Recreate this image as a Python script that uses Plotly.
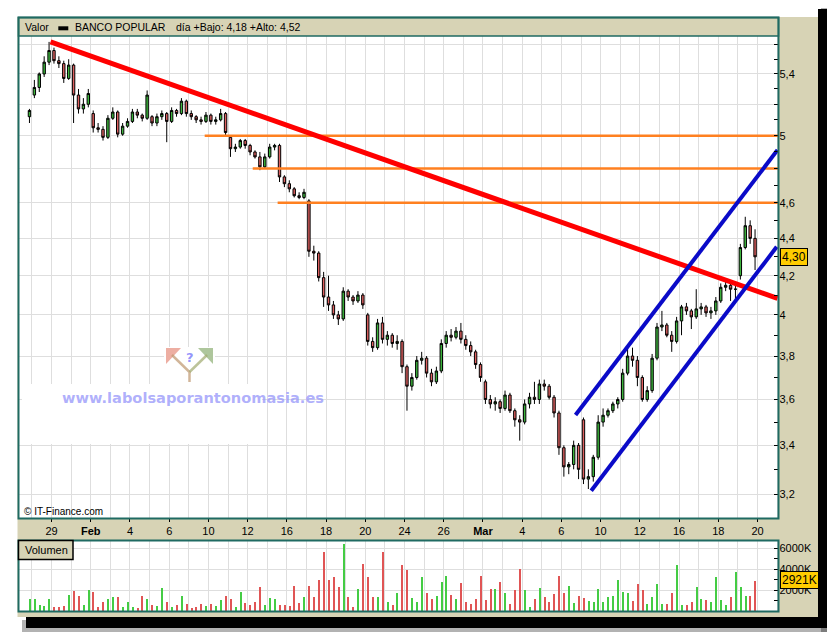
import numpy as np
import plotly.graph_objects as go

# page body adds an 8px margin; figure is sized so its content fits the 835x635 window
OFF = 8
W, H = 835 - OFF, 635 - OFF

# ---------------- data ----------------
trading_days = [
    "Jan 27", "Jan 28", "Jan 29", "Jan 30",
    "Feb 2", "Feb 3", "Feb 4", "Feb 5", "Feb 6",
    "Feb 9", "Feb 10", "Feb 11", "Feb 12", "Feb 13",
    "Feb 16", "Feb 17", "Feb 18", "Feb 19", "Feb 20",
    "Feb 23", "Feb 24", "Feb 25", "Feb 26", "Feb 27",
    "Mar 2", "Mar 3", "Mar 4", "Mar 5", "Mar 6",
    "Mar 9", "Mar 10", "Mar 11", "Mar 12", "Mar 13",
    "Mar 16", "Mar 17", "Mar 18", "Mar 19",
]
axis_days = trading_days + ["Mar 20", "Mar 23"]
slots_per_day = 4

tick_days = ["Jan 29", "Feb 2", "Feb 4", "Feb 6", "Feb 10", "Feb 12", "Feb 16", "Feb 18",
             "Feb 20", "Feb 24", "Feb 26", "Mar 2", "Mar 4", "Mar 6", "Mar 10", "Mar 12",
             "Mar 16", "Mar 18", "Mar 20"]
tick_text = ["29", "<b>Feb</b>", "4", "6", "10", "12", "16", "18", "20", "24", "26",
             "<b>Mar</b>", "4", "6", "10", "12", "16", "18", "20"]

N = None
opens = [
    N, N, N, 5.12,                 # Jan 27
    5.26, 5.31, 5.40, 5.48,        # Jan 28
    5.56, 5.49, 5.47, 5.37,        # Jan 29
    5.46, 5.26, 5.17, 5.20,        # Jan 30
    5.14, 5.05, 5.04, 4.99,        # Feb 2
    5.11, 5.15, 5.01, 5.06,        # Feb 3
    5.09, 5.15, 5.13, 5.11,        # Feb 4
    5.12, 5.08, 5.12, 5.14,        # Feb 5
    5.09, 5.16, 5.14, 5.22,        # Feb 6
    5.14, 5.12, 5.10, 5.09,        # Feb 9
    5.13, 5.09, 5.10, 5.14,        # Feb 10
    4.99, 4.92, 4.93, 4.97,        # Feb 11
    4.94, 4.90, 4.87, 4.81,        # Feb 12
    4.87, 4.93, 4.94, 4.75,        # Feb 13
    4.71, 4.68, 4.64, 4.63,        # Feb 16
    4.61, 4.33, 4.32, 4.19,        # Feb 17
    4.09, 4.05, 4.00, 3.98,        # Feb 18
    4.12, 4.09, 4.07, 4.10,        # Feb 19
    4.00, 3.87, 3.84, 3.96,        # Feb 20
    3.88, 3.90, 3.86, 3.87,        # Feb 23
    3.75, 3.66, 3.70, 3.78,        # Feb 24
    3.79, 3.72, 3.68, 3.73,        # Feb 25
    3.86, 3.90, 3.89, 3.92,        # Feb 26
    3.88, 3.85, 3.82, 3.76,        # Feb 27
    3.68, 3.60, 3.58, 3.59,        # Mar 2
    3.56, 3.62, 3.55, 3.51,        # Mar 3
    3.50, 3.58, 3.61, 3.60,        # Mar 4
    3.67, 3.66, 3.61, 3.54,        # Mar 5
    3.39, 3.31, 3.32, 3.40,        # Mar 6
    3.51, 3.26, 3.27, 3.35,        # Mar 9
    3.50, 3.53, 3.55, 3.58,        # Mar 10
    3.60, 3.72, 3.80, 3.78,        # Mar 11
    3.70, 3.60, 3.64, 3.79,        # Mar 12
    3.94, 3.95, 3.90, 3.87,        # Mar 13
    3.97, 4.04, 4.02, 3.99,        # Mar 16
    4.03, 4.04, 4.01, 4.02,        # Mar 17
    4.07, 4.14, 4.15, 4.13,        # Mar 18
    4.20, 4.35, 4.47, 4.40,        # Mar 19
]
highs = [
    N, N, N, 5.17,
    5.36, 5.41, 5.52, 5.62,
    5.58, 5.52, 5.49, 5.50,
    5.47, 5.30, 5.24, 5.30,
    5.16, 5.08, 5.06, 5.13,
    5.18, 5.16, 5.08, 5.11,
    5.17, 5.17, 5.14, 5.29,
    5.13, 5.14, 5.16, 5.15,
    5.18, 5.17, 5.24, 5.23,
    5.16, 5.13, 5.12, 5.15,
    5.14, 5.12, 5.17, 5.15,
    5.00, 4.95, 4.98, 4.98,
    4.95, 4.91, 4.90, 4.89,
    4.95, 4.95, 4.95, 4.76,
    4.73, 4.69, 4.66, 4.68,
    4.62, 4.36, 4.33, 4.22,
    4.20, 4.07, 4.02, 4.14,
    4.13, 4.10, 4.12, 4.11,
    4.01, 3.89, 3.98, 3.99,
    3.92, 3.91, 3.90, 3.88,
    3.76, 3.72, 3.80, 3.82,
    3.80, 3.74, 3.75, 3.88,
    3.92, 3.93, 3.94, 3.96,
    3.90, 3.87, 3.83, 3.77,
    3.69, 3.62, 3.61, 3.60,
    3.64, 3.63, 3.56, 3.53,
    3.60, 3.63, 3.68, 3.69,
    3.69, 3.67, 3.62, 3.55,
    3.40, 3.33, 3.42, 3.41,
    3.52, 3.30, 3.36, 3.53,
    3.56, 3.56, 3.59, 3.61,
    3.74, 3.85, 3.84, 3.80,
    3.71, 3.66, 3.81, 3.96,
    4.02, 3.96, 3.92, 3.99,
    4.05, 4.06, 4.03, 4.13,
    4.06, 4.05, 4.04, 4.09,
    4.16, 4.17, 4.16, 4.15,
    4.37, 4.52, 4.50, 4.45,
]
lows = [
    N, N, N, 5.08,
    5.24, 5.28, 5.38, 5.46,
    5.47, 5.44, 5.34, 5.36,
    5.08, 5.14, 5.14, 5.18,
    5.02, 5.02, 4.97, 4.98,
    5.10, 4.99, 5.00, 5.05,
    5.08, 5.11, 5.09, 5.10,
    5.06, 5.06, 5.10, 4.96,
    5.08, 5.12, 5.13, 5.12,
    5.10, 5.08, 5.07, 5.08,
    5.07, 5.07, 5.09, 5.00,
    4.87, 4.90, 4.92, 4.92,
    4.88, 4.86, 4.79, 4.80,
    4.86, 4.91, 4.72, 4.69,
    4.66, 4.63, 4.62, 4.62,
    4.30, 4.28, 4.17, 4.04,
    4.02, 3.98, 3.95, 3.97,
    4.07, 4.05, 4.06, 4.03,
    3.85, 3.82, 3.83, 3.86,
    3.85, 3.84, 3.83, 3.72,
    3.55, 3.64, 3.69, 3.76,
    3.70, 3.66, 3.67, 3.72,
    3.84, 3.87, 3.88, 3.86,
    3.83, 3.80, 3.74, 3.68,
    3.58, 3.56, 3.55, 3.54,
    3.55, 3.54, 3.48, 3.42,
    3.49, 3.56, 3.58, 3.58,
    3.64, 3.60, 3.52, 3.36,
    3.27, 3.28, 3.30, 3.26,
    3.24, 3.22, 3.25, 3.34,
    3.48, 3.52, 3.54, 3.56,
    3.59, 3.71, 3.75, 3.66,
    3.59, 3.59, 3.63, 3.78,
    3.92, 3.89, 3.82, 3.86,
    3.90, 4.00, 3.93, 3.98,
    4.00, 3.99, 3.98, 4.00,
    4.06, 4.12, 4.07, 4.08,
    4.18, 4.34, 4.37, 4.23,
]
closes = [
    N, N, N, 5.16,
    5.31, 5.40, 5.48, 5.56,
    5.49, 5.47, 5.37, 5.46,
    5.26, 5.17, 5.20, 5.27,
    5.05, 5.04, 4.99, 5.11,
    5.15, 5.01, 5.06, 5.09,
    5.15, 5.13, 5.11, 5.26,
    5.08, 5.12, 5.14, 5.09,
    5.16, 5.14, 5.22, 5.14,
    5.12, 5.10, 5.09, 5.13,
    5.09, 5.10, 5.14, 5.02,
    4.92, 4.93, 4.97, 4.94,
    4.90, 4.87, 4.81, 4.87,
    4.93, 4.94, 4.75, 4.71,
    4.68, 4.64, 4.63, 4.66,
    4.33, 4.32, 4.19, 4.09,
    4.05, 4.00, 3.98, 4.12,
    4.09, 4.07, 4.10, 4.05,
    3.87, 3.84, 3.96, 3.88,
    3.90, 3.86, 3.87, 3.75,
    3.66, 3.70, 3.78, 3.79,
    3.72, 3.68, 3.73, 3.86,
    3.90, 3.89, 3.92, 3.88,
    3.85, 3.82, 3.76, 3.70,
    3.60, 3.58, 3.59, 3.56,
    3.62, 3.55, 3.51, 3.50,
    3.58, 3.61, 3.60, 3.67,
    3.66, 3.61, 3.54, 3.39,
    3.31, 3.32, 3.40, 3.30,
    3.26, 3.27, 3.35, 3.50,
    3.53, 3.55, 3.58, 3.60,
    3.72, 3.80, 3.78, 3.70,
    3.60, 3.64, 3.79, 3.94,
    3.95, 3.90, 3.87, 3.97,
    4.04, 4.02, 3.99, 4.03,
    4.04, 4.01, 4.02, 4.07,
    4.14, 4.15, 4.13, 4.13,
    4.35, 4.47, 4.40, 4.30,
]
volumes_k = [
    N, N, N, 1200,
    1150, 560, 540, 1200,
    410, 420, 500, 1600,
    1900, 1450, 600, 2000,
    1850, 420, 900, 1200,
    1400, 1400, 400, 900,
    380, 300, 1500, 1200,
    570, 500, 2250, 900,
    400, 600, 1500, 700,
    280, 450, 700, 550,
    700, 500, 1100, 1500,
    1200, 420, 1850, 750,
    570, 900, 2300, 600,
    1250, 1200, 600, 580,
    550, 2450, 750, 1400,
    2450, 1400, 2950, 5650,
    2950, 3250, 2300, 6450,
    1350, 450, 2100, 4500,
    3300, 1350, 1350, 5650,
    900, 570, 1700, 4450,
    3900, 1300, 900, 3300,
    1700, 1200, 1500, 2800,
    3350, 1550, 1200, 2700,
    900, 700, 1200, 3350,
    1100, 2150, 2150, 2800,
    1700, 730, 2000, 4050,
    2000, 400, 1200, 2200,
    1360, 900, 1680, 3400,
    1700, 2450, 750, 1500,
    1250, 1000, 900, 2150,
    900, 1350, 1500, 3000,
    1850, 1700, 1000, 2600,
    2000, 700, 1350, 2600,
    730, 730, 1700, 4400,
    570, 600, 900, 2300,
    1200, 1050, 900, 3250,
    1050, 570, 1350, 3750,
    2300, 1500, 1500, 2921,
]

# drawn trend lines (day offset from Jan 29, price)
red_trend_days = [-0.05, 37.02]
red_trend_prices = [5.62, 4.083]
upper_channel_days = [26.72, 37.02]
upper_channel_prices = [3.531, 4.912]
lower_channel_days = [27.52, 36.98]
lower_channel_prices = [3.213, 4.354]
resistance_prices = [5.0, 4.8, 4.6]
resistance_start_days = [7.81, 10.26, 11.53]

price_ticks = [5.6, 5.4, 5.2, 5.0, 4.8, 4.6, 4.4, 4.2, 4.0, 3.8, 3.6, 3.4, 3.2]
price_tick_text = ["", "5,4", "", "5", "", "4,6", "4,4", "4,2", "4", "3,8", "3,6", "3,4", "3,2"]
price_minor = [5.5, 5.3, 5.1, 4.9, 4.7, 4.5, 4.3, 4.1, 3.9, 3.7, 3.5, 3.3]
vol_ticks = [2000, 4000, 6000]
vol_tick_text = ["2000K", "4000K", "6000K"]
vol_minor = [1000, 3000, 5000]

# ---------------- derived positions ----------------
origin = axis_days.index("Jan 29")
x = []
for i, _ in enumerate(trading_days):
    for q in range(slots_per_day):
        x.append(i - origin + (q + 0.5) / slots_per_day)
tick_pos = [axis_days.index(d) - origin for d in tick_days]
X_RANGE = [-1.684, 37.07]

vol_colors = []
for o, c in zip(opens, closes):
    if o is None:
        vol_colors.append("#44cc44")
    else:
        vol_colors.append("#44cc44" if c >= o else "#e05555")


def fx(px):
    return (px - OFF) / W


def fy(py):
    return 1 - (py - OFF) / H


BEIGE = "#d7d3b5"
TEAL = "#1f6a62"
GRID = "#dedede"
FONT = "Liberation Sans, Arial, sans-serif"

fig = go.Figure()

fig.add_trace(go.Candlestick(
    x=x, open=opens, high=highs, low=lows, close=closes,
    increasing=dict(fillcolor="#3cb43c", line=dict(color="black", width=1)),
    decreasing=dict(fillcolor="#de6060", line=dict(color="black", width=1)),
    whiskerwidth=0, xaxis="x", yaxis="y", showlegend=False, hoverinfo="skip",
))

for p, d0 in zip(resistance_prices, resistance_start_days):
    fig.add_trace(go.Scatter(x=[d0, X_RANGE[1] + 1], y=[p, p], mode="lines",
                             line=dict(color="#ff8020", width=2.5),
                             xaxis="x", yaxis="y", showlegend=False, hoverinfo="skip"))

fig.add_trace(go.Scatter(x=red_trend_days, y=red_trend_prices, mode="lines",
                         line=dict(color="#ff0000", width=5),
                         xaxis="x", yaxis="y", showlegend=False, hoverinfo="skip"))
for dd, pp in [(upper_channel_days, upper_channel_prices), (lower_channel_days, lower_channel_prices)]:
    fig.add_trace(go.Scatter(x=dd, y=pp, mode="lines",
                             line=dict(color="#0a0ac8", width=4),
                             xaxis="x", yaxis="y", showlegend=False, hoverinfo="skip"))

fig.add_trace(go.Bar(x=x, y=volumes_k, marker=dict(color=vol_colors, line=dict(width=0)),
                     width=0.075, xaxis="x2", yaxis="y2", showlegend=False, hoverinfo="skip"))

x_dom = [fx(18.5), fx(778.5)]
price_dom = [fy(518), fy(36)]
vol_dom = [fy(611), fy(540.7)]
p_lo = np.exp((1427.8 - 518) / 802.8)
p_hi = np.exp((1427.8 - 36) / 802.8)

axis_font = dict(family=FONT, size=11, color="black")

fig.update_layout(
    width=W, height=H, autosize=False,
    margin=dict(l=0, r=0, t=0, b=0),
    paper_bgcolor="white", plot_bgcolor="white",
    showlegend=False,
    bargap=0,
    xaxis=dict(domain=x_dom, range=X_RANGE, anchor="y",
               tickmode="array", tickvals=tick_pos, ticktext=tick_text,
               ticks="outside", ticklen=3, tickcolor="black",
               showgrid=True, gridcolor=GRID, gridwidth=1,
               minor=dict(dtick=1, tick0=0, showgrid=True, gridcolor=GRID, ticks=""),
               zeroline=False, showline=False, tickfont=axis_font,
               rangeslider=dict(visible=False), fixedrange=True),
    yaxis=dict(domain=price_dom, type="log", anchor="x", side="right",
               range=[np.log10(p_lo), np.log10(p_hi)],
               tickmode="array", tickvals=price_ticks, ticktext=price_tick_text,
               ticks="inside", ticklen=5, tickcolor="black",
               showgrid=True, gridcolor=GRID, gridwidth=1,
               minor=dict(tickmode="array", tickvals=price_minor, ticks="inside",
                          ticklen=5, tickcolor="black", showgrid=False),
               zeroline=False, showline=False, tickfont=axis_font, fixedrange=True),
    xaxis2=dict(domain=x_dom, range=X_RANGE, anchor="y2", matches="x",
                tickmode="array", tickvals=tick_pos, showticklabels=False, ticks="",
                showgrid=True, gridcolor=GRID,
                minor=dict(dtick=1, tick0=0, showgrid=True, gridcolor=GRID, ticks=""),
                zeroline=False, showline=False, fixedrange=True),
    yaxis2=dict(domain=vol_dom, range=[0, 6695], anchor="x2", side="right",
                tickmode="array", tickvals=vol_ticks, ticktext=vol_tick_text,
                ticks="inside", ticklen=5, tickcolor="black",
                showgrid=True, gridcolor=GRID,
                minor=dict(tickmode="array", tickvals=vol_minor, ticks="inside",
                           ticklen=5, tickcolor="black", showgrid=False),
                zeroline=False, showline=False, tickfont=axis_font, fixedrange=True),
)


def rect(x0, y0, x1, y1, **kw):
    return dict(type="rect", xref="paper", yref="paper",
                x0=fx(x0), x1=fx(x1), y0=fy(y1), y1=fy(y0), **kw)


def path(pts, **kw):
    d = "M " + " L ".join(f"{fx(a)},{fy(b)}" for a, b in pts)
    return dict(type="path", xref="paper", yref="paper", path=d, **kw)


NOLINE = dict(width=0)
shapes = [
    # shadow
    rect(821, 6, 834, 632, fillcolor="rgba(0,0,0,0.3)", line=NOLINE, layer="below"),
    rect(22, 620, 834, 632, fillcolor="rgba(0,0,0,0.3)", line=NOLINE, layer="below"),
    rect(818, 9, 830, 628, fillcolor="black", line=NOLINE, layer="below"),
    rect(26, 617, 830, 628, fillcolor="black", line=NOLINE, layer="below"),
    # beige panel with white plotting areas
    rect(17.5, 17, 818, 617, fillcolor=BEIGE, line=NOLINE, layer="below"),
    rect(18.5, 36, 778.5, 518.5, fillcolor="white", line=NOLINE, layer="below"),
    rect(18.5, 540.5, 778.5, 611.5, fillcolor="white", line=NOLINE, layer="below"),
    # watermark masks and logo
    rect(22, 384, 262, 444, fillcolor="white", line=NOLINE, layer="above"),
    rect(164, 347, 215, 384, fillcolor="white", line=NOLINE, layer="above"),
    path([(166, 348), (181, 348), (166, 364)], fillcolor="rgba(225,120,100,0.6)",
         line=NOLINE, layer="above"),
    path([(213, 348), (198, 348), (213, 364)], fillcolor="rgba(120,160,90,0.6)",
         line=NOLINE, layer="above"),
    path([(172, 355), (189.5, 372), (189.5, 382)], line=dict(color="rgba(190,150,110,0.7)", width=2.5),
         layer="above"),
    path([(207, 355), (189.5, 372)], line=dict(color="rgba(160,170,110,0.7)", width=2.5),
         layer="above"),
    # header bar
    rect(18.5, 17.5, 778.5, 36, fillcolor=BEIGE, line=dict(color=TEAL, width=1.5), layer="above"),
    rect(58.3, 26.3, 68.3, 30.3, fillcolor="black", line=NOLINE, layer="above"),
    # frames
    rect(18.5, 17.5, 778.5, 518.5, line=dict(color=TEAL, width=2), layer="above"),
    rect(18.5, 540.5, 778.5, 611.5, line=dict(color=TEAL, width=2), layer="above"),
    rect(18.5, 540.5, 73, 559.5, fillcolor=BEIGE, line=dict(color="black", width=1.5), layer="above"),
]
fig.update_layout(shapes=shapes)

day_hi = max(highs[-slots_per_day:])
day_lo = min(lows[-slots_per_day:])


def fmt(v, nd=2):
    return f"{v:.{nd}f}".replace(".", ",")


def ann(text, px, py, size=11, anchor="left"):
    return dict(text=text, x=fx(px), y=fy(py), xref="paper", yref="paper",
                xanchor=anchor, yanchor="middle", showarrow=False,
                font=dict(family=FONT, size=size, color="black"))


annotations = [
    ann("Valor", 23, 27.5, size=10.5),
    ann("BANCO POPULAR", 73, 27.5, size=10.5),
    ann(f"día +Bajo: {fmt(day_lo)} +Alto: {fmt(day_hi)}", 173.5, 27.5, size=10.5),
    ann("© IT-Finance.com", 22, 511, size=10),
    ann("Volumen", 22.5, 550),
    dict(text="<b>www.labolsaporantonomasia.es</b>", x=fx(60), y=fy(397.5), xref="paper", yref="paper",
         xanchor="left", yanchor="middle", showarrow=False,
         font=dict(family="DejaVu Sans, sans-serif", size=14.6, color="rgba(150,150,250,0.75)")),
    dict(text="<b>?</b>", x=fx(189.5), y=fy(357), xref="paper", yref="paper",
         xanchor="center", yanchor="middle", showarrow=False,
         font=dict(family="DejaVu Sans, sans-serif", size=13, color="rgba(120,120,250,0.8)")),
    dict(text=fmt(closes[-1]), x=fx(779.5), y=np.log10(closes[-1]), xref="paper", yref="y",
         xanchor="left", yanchor="middle", showarrow=False,
         font=dict(family=FONT, size=12, color="black"),
         bgcolor="#ffcc00", bordercolor="black", borderwidth=1, borderpad=1),
    dict(text=f"{volumes_k[-1]}K", x=fx(779.5), y=volumes_k[-1], xref="paper", yref="y2",
         xanchor="left", yanchor="middle", showarrow=False,
         font=dict(family=FONT, size=12, color="black"),
         bgcolor="#ffcc00", bordercolor="black", borderwidth=1, borderpad=1),
]
fig.update_layout(annotations=annotations)

fig.write_html("out.html")
